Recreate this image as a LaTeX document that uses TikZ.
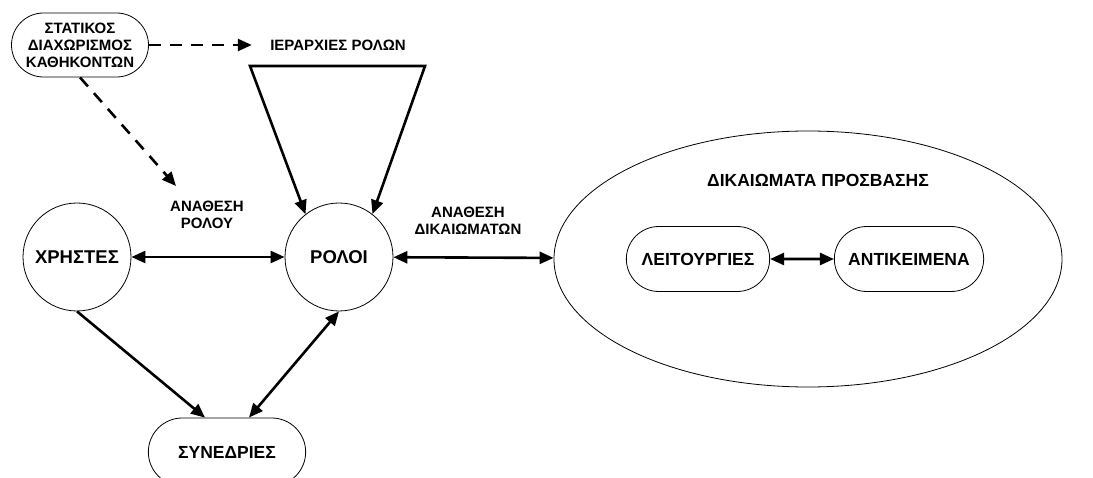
\documentclass[tikz,border=0pt]{standalone}
\usepackage{fontspec}
\setmainfont{Liberation Sans}
\usetikzlibrary{arrows.meta,shapes.geometric,shapes.misc,positioning}

\tikzset{
	role/.style={circle, draw, line width=0.8pt, minimum size=108pt, font=\fontsize{18.5}{20}\selectfont\bfseries},
	pill/.style={rounded rectangle, draw, line width=0.8pt, font=\fontsize{17.5}{20}\selectfont\bfseries},
	small/.style={align=center, font=\fontsize{15}{17}\selectfont\bfseries},
	arr/.style={line width=2.6pt, {Triangle[length=14pt,width=12pt]}-{Triangle[length=14pt,width=12pt]}},
	onearr/.style={line width=2.6pt, -{Triangle[length=14pt,width=12pt]}},
	dasharr/.style={line width=2.6pt, dash pattern=on 12pt off 9pt, -{Triangle[length=14pt,width=12pt]}}
}

\begin{document}
\begin{tikzpicture}[x=1pt,y=-1pt]
	\useasboundingbox (0,0) rectangle (1093,478);

	% Users, roles and sessions
	\node [role] (users) at (77,257) {ΧΡΗΣΤΕΣ};
	\node [role] (roles) at (339,257) {ΡΟΛΟΙ};
	\node [pill, minimum width=164pt, minimum height=68pt] (sessions) at (227,452) {ΣΥΝΕΔΡΙΕΣ};

	% Permissions
	\node [draw, ellipse, line width=0.8pt, minimum width=508pt, minimum height=256pt] (perms) at (808,259) {};
	\node [small, font=\fontsize{17.5}{20}\selectfont\bfseries] (permtitle) at (818,180) {ΔΙΚΑΙΩΜΑΤΑ ΠΡΟΣΒΑΣΗΣ};
	\node [pill, minimum width=150pt, minimum height=65pt] (ops) at (698,259) {ΛΕΙΤΟΥΡΓΙΕΣ};
	\node [pill, minimum width=156pt, minimum height=65pt] (objs) at (909,259) {ΑΝΤΙΚΕΙΜΕΝΑ};

	% Constraints and labels
	\node [pill, small, minimum width=139pt, minimum height=64pt, inner xsep=1pt] (ssd) at (80,45) {ΣΤΑΤΙΚΟΣ\\ΔΙΑΧΩΡΙΣΜΟΣ\\ΚΑΘΗΚΟΝΤΩΝ};
	\node [small] (hier) at (338,45) {ΙΕΡΑΡΧΙΕΣ ΡΟΛΩΝ};
	\node [small] (ura) at (207,215) {ΑΝΑΘΕΣΗ\\ΡΟΛΟΥ};
	\node [small] (pra) at (468,221) {ΑΝΑΘΕΣΗ\\ΔΙΚΑΙΩΜΑΤΩΝ};

	% Role hierarchy loop
	\coordinate (hl) at (250,66);
	\coordinate (hr) at (425,66);
	\draw [arr] (roles.128) -- (hl) -- (hr) -- (roles.52);

	% Assignments
	\draw [arr] (users) -- (roles);
	\draw [arr] (roles) -- (perms);
	\draw [arr] (ops) -- (objs);
	\draw [onearr] (users.south) -- ([xshift=-22pt]sessions.north);
	\draw [arr] ([xshift=22pt]sessions.north) -- (roles.south);

	% Static separation of duty
	\coordinate (ssdend) at (176,186);
	\draw [dasharr] (ssd.east) -- ([xshift=-15pt]hier.west);
	\draw [dasharr] (ssd.south) -- (ssdend);
\end{tikzpicture}
\end{document}
